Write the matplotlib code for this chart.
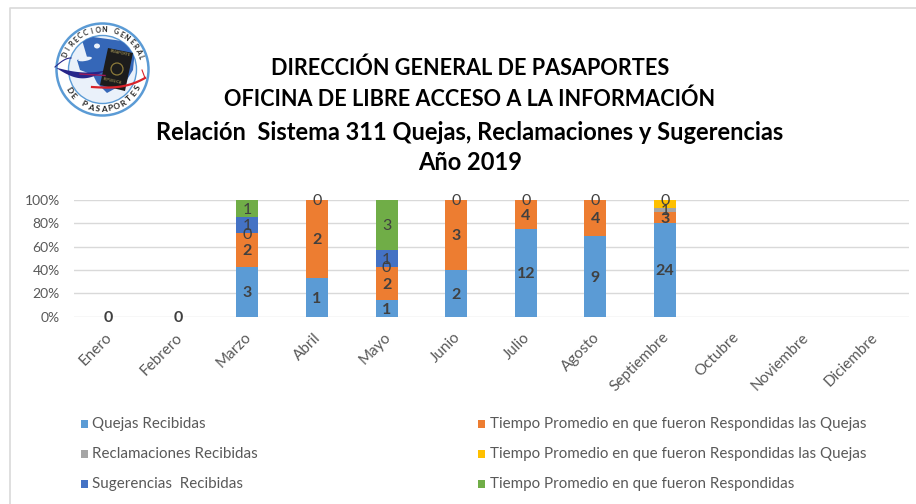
import matplotlib
matplotlib.use("Agg")
import numpy as np
import matplotlib.pyplot as plt
from matplotlib.patches import Circle, Rectangle, Polygon, Ellipse
from matplotlib.transforms import ScaledTranslation

plt.rcParams['font.family'] = ['Lato', 'DejaVu Sans']

W, H = 916, 504

meses = ["Enero", "Febrero", "Marzo", "Abril", "Mayo", "Junio", "Julio", "Agosto",
         "Septiembre", "Octubre", "Noviembre", "Diciembre"]

quejas = [0, 0, 3, 1, 1, 2, 12, 9, 24, 0, 0, 0]
tiempo_quejas = [0, 0, 2, 2, 2, 3, 4, 4, 3, 0, 0, 0]
reclamaciones = [0, 0, 0, 0, 0, 0, 0, 0, 1, 0, 0, 0]
tiempo_recl = [0, 0, 0, 0, 0, 0, 0, 0, 2, 0, 0, 0]
sugerencias = [0, 0, 1, 0, 1, 0, 0, 0, 0, 0, 0, 0]
tiempo_sug = [0, 0, 1, 0, 3, 0, 0, 0, 0, 0, 0, 0]

# etiquetas tal como salen en la grafica (None = sin etiqueta)
et_quejas = [0, 0, 3, 1, 1, 2, 12, 9, 24, None, None, None]
et_tiempo_quejas = [None, None, 2, 2, 2, 3, 4, 4, 3, None, None, None]
et_reclamaciones = [None, None, 0, 0, 0, 0, 0, 0, 1, None, None, None]
et_tiempo_recl = [None, None, None, None, None, None, None, None, 0, None, None, None]
et_sugerencias = [None, None, 1, None, 1, None, None, None, None, None, None, None]
et_tiempo_sug = [None, None, 1, None, 3, None, None, None, None, None, None, None]

series = [
    ("Quejas Recibidas", quejas, et_quejas, "#5B9BD5", "bold"),
    ("Tiempo Promedio en que fueron Respondidas las Quejas", tiempo_quejas, et_tiempo_quejas, "#ED7D31", "bold"),
    ("Reclamaciones Recibidas", reclamaciones, et_reclamaciones, "#A5A5A5", "normal"),
    ("Tiempo Promedio en que fueron Respondidas las Quejas", tiempo_recl, et_tiempo_recl, "#FFC000", "normal"),
    ("Sugerencias  Recibidas", sugerencias, et_sugerencias, "#4472C4", "normal"),
    ("Tiempo Promedio en que fueron Respondidas", tiempo_sug, et_tiempo_sug, "#70AD47", "normal"),
]

titulos = ["DIRECCIÓN GENERAL DE PASAPORTES",
           "OFICINA DE LIBRE ACCESO A LA INFORMACIÓN",
           "Relación  Sistema 311 Quejas, Reclamaciones y Sugerencias",
           "Año 2019"]

fig = plt.figure(figsize=(W / 100, H / 100), dpi=100)

# capa de fondo en pixeles, para marco, titulo, logo y leyenda
bg = fig.add_axes([0, 0, 1, 1])
bg.set_xlim(0, W)
bg.set_ylim(H, 0)
bg.axis("off")

bg.plot([W, 9.5, 9.5], [8, 8, H], color="#D9D9D9", lw=1.2)

for y, t, fs in zip([68, 99, 133, 163], titulos, [15.6, 15.6, 17, 17]):
    bg.text(470, y, t, ha="center", va="center", fontsize=fs, fontweight="bold", color="black")

# logo
cx, cy = 102.5, 69.5
bg.add_patch(Circle((cx, cy), 46, fc="white", ec="#5B9BD5", lw=1.8))
fondo = Circle((cx, cy), 34, fc="#EAF1FA", ec="#5B9BD5", lw=1)
bg.add_patch(fondo)
tierra = Polygon([(82, 40), (93, 37), (130, 42), (135, 50), (133, 70), (125, 83), (107, 93),
                  (97, 83), (93, 75), (80, 70), (77, 60), (87, 57)], fc="#3567B8", ec="none")
bg.add_patch(tierra)
tierra.set_clip_path(fondo)
bg.add_patch(Ellipse((85, 59), 14, 4, angle=-10, fc="#EAF1FA", ec="none"))
bg.add_patch(Ellipse((97, 46), 6, 5, fc="#EAF1FA", ec="none"))

t_sw = np.linspace(0, 1, 40)
# franja azul y morada de la izquierda
sup_x = 55 + 50 * t_sw
sup_y = 67 + 5 * np.sin(t_sw * np.pi * 0.8)
inf_y = sup_y + 6 * np.sin(t_sw * np.pi)
bg.fill_between(sup_x, sup_y, inf_y, color="#27268A", lw=0)
bg.plot(55 + 16 * t_sw, 67 - 9 * np.sin(t_sw * np.pi / 2), color="#27268A", lw=0.8)
bg.plot(80 + 25 * t_sw, 74 + 1.5 * t_sw, color="#9B1B5A", lw=1)
# franja roja de la derecha
bg.plot(92 + 53 * t_sw, 87 + 1 * np.sin(t_sw * np.pi) - 9 * t_sw ** 3, color="#D8232A", lw=1.6)
bg.plot(142 + 3 * t_sw, 70 + 8 * t_sw, color="#D8232A", lw=0.8)

bg.add_patch(Polygon([(108, 48), (133, 53), (125, 91), (100, 85)], fc="#1C1C1C", ec="none"))
bg.add_patch(Circle((117, 69), 6, fc="none", ec="#8C7A3A", lw=0.9))
bg.text(120.5, 53, "PASAPORTE", ha="center", va="center", rotation=-12, fontsize=2.6, color="#B8A860")
bg.text(112.5, 81, "REPUBLICA", ha="center", va="center", rotation=-12, fontsize=2.6, color="#B8A860")


def arc_text(s, r, a0, a1, rot_extra, fs):
    for ch, a in zip(s, np.linspace(a0, a1, len(s))):
        x = cx + r * np.cos(np.radians(a))
        y = cy - r * np.sin(np.radians(a))
        bg.text(x, y, ch, ha="center", va="center", rotation=a + rot_extra, fontsize=fs,
                fontweight="bold", color="#222222")


arc_text("DIRECCION GENERAL", 40, 158, 18, -90, 5)
arc_text("DE PASAPORTES", 39.5, 212, 332, 90, 6)

# grafica de barras
x0, x1, y100, y0 = 73.5, 908.5, 200, 316.5
ax = fig.add_axes([x0 / W, 1 - y0 / H, (x1 - x0) / W, (y0 - y100) / H])
ax.patch.set_alpha(0)

pos = np.arange(len(meses))
total = np.sum([s[1] for s in series], axis=0).astype(float)
total[total == 0] = 1
abajo = np.zeros(len(meses))
for nombre, vals, etiquetas, color, peso in series:
    frac = np.array(vals) / total
    ax.bar(pos, frac, 0.316, bottom=abajo, color=color, zorder=2)
    for i, e in enumerate(etiquetas):
        if e is None:
            continue
        # los ceros quedan pegados arriba del tramo
        yy = abajo[i] + frac[i] if e == 0 else abajo[i] + frac[i] / 2
        ax.text(i, yy, str(e), ha="center", va="center_baseline", fontsize=11.5, fontweight=peso,
                color="#404040", zorder=3, clip_on=False)
    abajo += frac

ax.set_xlim(-0.5, 11.5)
ax.set_ylim(0, 1)
ax.set_yticks(np.arange(0, 1.01, 0.2))
ax.set_yticklabels(["0%", "20%", "40%", "60%", "80%", "100%"], fontsize=10, color="#595959")
ax.set_xticks(pos)
ax.set_xticklabels(meses, rotation=45, ha="right", rotation_mode="anchor", fontsize=11, color="#595959")
ax.tick_params(length=0, pad=10, axis="x")
ax.tick_params(length=0, pad=10, axis="y")
corrimiento = ScaledTranslation(-3 / 100, 0, fig.dpi_scale_trans)
for lab in ax.get_xticklabels():
    lab.set_transform(lab.get_transform() + corrimiento)
ax.grid(axis="y", color="#D9D9D9", lw=1, zorder=1)
ax.set_axisbelow(True)
for s in ax.spines.values():
    s.set_visible(False)

# leyenda a mano para respetar las dos columnas
col_x = [81, 478]
fila_y = [424, 454, 484]
orden = [(0, 0, 0), (1, 1, 0), (2, 0, 1), (3, 1, 1), (4, 0, 2), (5, 1, 2)]
for idx, c, f in orden:
    nombre, _, _, color, _ = series[idx]
    bg.add_patch(Rectangle((col_x[c], fila_y[f] - 4), 7, 8, fc=color, ec="none"))
    bg.text(col_x[c] + 11.5, fila_y[f], nombre, ha="left", va="center", fontsize=10.9, color="#595959")

fig.savefig("out.png", dpi=100)
